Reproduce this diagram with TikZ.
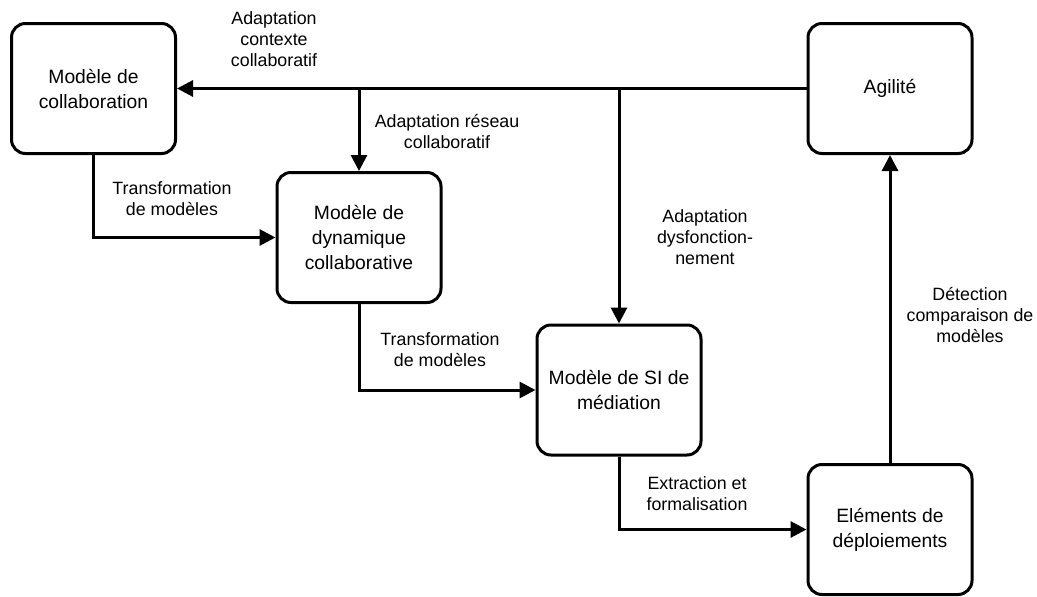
\documentclass[tikz,border=0pt]{standalone}
\usepackage{fontspec}
\setmainfont{Liberation Sans}
\usetikzlibrary{arrows.meta}
\begin{document}
\begin{tikzpicture}[x=1pt,y=-1pt,
  box/.style={draw, line width=3pt, rounded corners=14pt, minimum width=164pt, minimum height=130pt, align=center, font=\fontsize{19.3}{25}\selectfont, inner sep=0pt},
  conn/.style={line width=3pt, -{Triangle[length=16pt,width=16pt]}},
  lbl/.style={align=center, font=\fontsize{17.8}{21}\selectfont, inner sep=0pt}]
\useasboundingbox (0,0) rectangle (1037,597);
\node[box] (b1) at (93.5,88.5) {Modèle de\\collaboration};
\node[box] (ag) at (890,88.5) {Agilité};
\node[box] (b2) at (359,237.5) {Modèle de\\dynamique\\collaborative};
\node[box] (b3) at (619,390) {Modèle de SI de\\médiation};
\node[box] (b4) at (890,529.5) {Eléments de\\déploiements};
\coordinate (j1) at (b2.north |- ag.west);
\coordinate (j2) at (b3.north |- ag.west);
\draw[conn] (ag.west) -- (b1.east);
\draw[conn] (j1) -- (b2.north);
\draw[conn] (j2) -- (b3.north);
\draw[conn] (b1.south) |- (b2.west);
\draw[conn] (b2.south) |- (b3.west);
\draw[conn] (b3.south) |- (b4.west);
\draw[conn] (b4.north) -- (ag.south);
\node[lbl] (l1) at (274,39) {Adaptation\\contexte\\collaboratif};
\node[lbl] (l2) at (447,132) {Adaptation réseau\\collaboratif};
\node[lbl] (l3) at (172,199) {Transformation\\de modèles};
\node[lbl] (l4) at (705,237) {Adaptation\\dysfonction-\\nement};
\node[lbl] (l5) at (440,350) {Transformation\\de modèles};
\node[lbl] (l6) at (697,494) {Extraction et\\formalisation};
\node[lbl] (l7) at (970,315) {Détection\\comparaison de\\modèles};
\end{tikzpicture}
\end{document}
